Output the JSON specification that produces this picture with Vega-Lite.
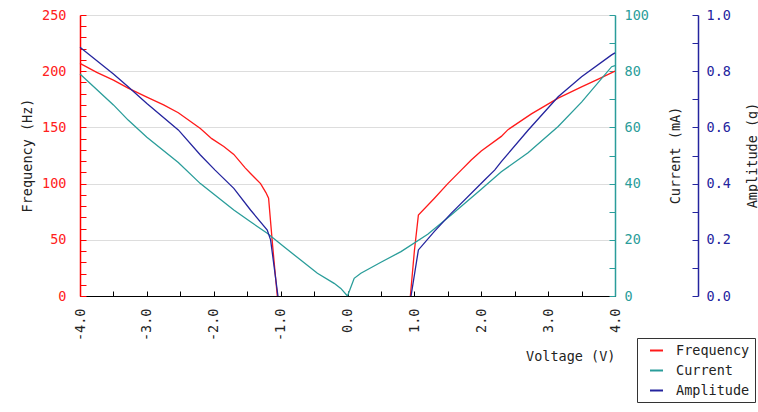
{
  "$schema": "https://vega.github.io/schema/vega-lite/v6.json",
  "width": 535,
  "height": 281,
  "autosize": {"type": "none"},
  "padding": {"left": 80, "top": 15, "right": 143, "bottom": 116},
  "background": "white",
  "config": {
    "view": {"stroke": null},
    "axis": {"labelFont": "DejaVu Sans Mono", "labelFontSize": 13.5, "titleFont": "DejaVu Sans Mono", "titleFontSize": 13.5, "titleFontWeight": "normal", "titleColor": "#222222"}
  },
  "data": {"values": [
    {"series": "Frequency", "side": "L", "v": -4.0, "y": 207},
    {"series": "Frequency", "side": "L", "v": -3.75, "y": 199},
    {"series": "Frequency", "side": "L", "v": -3.5, "y": 192},
    {"series": "Frequency", "side": "L", "v": -3.28, "y": 185},
    {"series": "Frequency", "side": "L", "v": -3.0, "y": 177},
    {"series": "Frequency", "side": "L", "v": -2.75, "y": 170},
    {"series": "Frequency", "side": "L", "v": -2.53, "y": 163},
    {"series": "Frequency", "side": "L", "v": -2.2, "y": 149},
    {"series": "Frequency", "side": "L", "v": -2.03, "y": 140},
    {"series": "Frequency", "side": "L", "v": -1.85, "y": 133},
    {"series": "Frequency", "side": "L", "v": -1.7, "y": 126},
    {"series": "Frequency", "side": "L", "v": -1.53, "y": 114},
    {"series": "Frequency", "side": "L", "v": -1.45, "y": 109},
    {"series": "Frequency", "side": "L", "v": -1.3, "y": 100},
    {"series": "Frequency", "side": "L", "v": -1.22, "y": 92},
    {"series": "Frequency", "side": "L", "v": -1.18, "y": 87},
    {"series": "Frequency", "side": "L", "v": -1.12, "y": 45},
    {"series": "Frequency", "side": "L", "v": -1.05, "y": 0},
    {"series": "Frequency", "side": "R", "v": 0.94, "y": 0},
    {"series": "Frequency", "side": "R", "v": 1.0, "y": 40},
    {"series": "Frequency", "side": "R", "v": 1.06, "y": 72},
    {"series": "Frequency", "side": "R", "v": 1.3, "y": 87},
    {"series": "Frequency", "side": "R", "v": 1.5, "y": 100},
    {"series": "Frequency", "side": "R", "v": 1.7, "y": 112},
    {"series": "Frequency", "side": "R", "v": 1.85, "y": 121},
    {"series": "Frequency", "side": "R", "v": 2.0, "y": 129},
    {"series": "Frequency", "side": "R", "v": 2.3, "y": 142},
    {"series": "Frequency", "side": "R", "v": 2.4, "y": 148},
    {"series": "Frequency", "side": "R", "v": 2.75, "y": 162},
    {"series": "Frequency", "side": "R", "v": 3.15, "y": 176},
    {"series": "Frequency", "side": "R", "v": 3.5, "y": 186},
    {"series": "Frequency", "side": "R", "v": 3.75, "y": 193},
    {"series": "Frequency", "side": "R", "v": 4.0, "y": 200},
    {"series": "Current", "side": "L", "v": -4.0, "y": 79},
    {"series": "Current", "side": "L", "v": -3.5, "y": 68},
    {"series": "Current", "side": "L", "v": -3.28, "y": 62.6},
    {"series": "Current", "side": "L", "v": -3.0, "y": 56.5},
    {"series": "Current", "side": "L", "v": -2.53, "y": 47.5},
    {"series": "Current", "side": "L", "v": -2.2, "y": 40},
    {"series": "Current", "side": "L", "v": -1.7, "y": 30.6},
    {"series": "Current", "side": "L", "v": -1.45, "y": 26.4},
    {"series": "Current", "side": "L", "v": -1.2, "y": 22.3},
    {"series": "Current", "side": "L", "v": -0.95, "y": 17.5},
    {"series": "Current", "side": "L", "v": -0.7, "y": 12.8},
    {"series": "Current", "side": "L", "v": -0.45, "y": 8.1},
    {"series": "Current", "side": "L", "v": -0.2, "y": 4.5},
    {"series": "Current", "side": "L", "v": -0.1, "y": 2.7},
    {"series": "Current", "side": "L", "v": 0.0, "y": 0},
    {"series": "Current", "side": "R", "v": 0.0, "y": 0},
    {"series": "Current", "side": "R", "v": 0.1, "y": 6.3},
    {"series": "Current", "side": "R", "v": 0.2, "y": 8.1},
    {"series": "Current", "side": "R", "v": 0.5, "y": 12},
    {"series": "Current", "side": "R", "v": 0.8, "y": 15.8},
    {"series": "Current", "side": "R", "v": 1.2, "y": 22},
    {"series": "Current", "side": "R", "v": 1.55, "y": 28.8},
    {"series": "Current", "side": "R", "v": 2.0, "y": 38},
    {"series": "Current", "side": "R", "v": 2.3, "y": 44.2},
    {"series": "Current", "side": "R", "v": 2.7, "y": 51},
    {"series": "Current", "side": "R", "v": 3.15, "y": 60.3},
    {"series": "Current", "side": "R", "v": 3.5, "y": 69},
    {"series": "Current", "side": "R", "v": 3.95, "y": 81.6},
    {"series": "Current", "side": "R", "v": 4.0, "y": 82},
    {"series": "Amplitude", "side": "L", "v": -4.0, "y": 0.885},
    {"series": "Amplitude", "side": "L", "v": -3.5, "y": 0.79},
    {"series": "Amplitude", "side": "L", "v": -3.28, "y": 0.745},
    {"series": "Amplitude", "side": "L", "v": -3.0, "y": 0.685},
    {"series": "Amplitude", "side": "L", "v": -2.53, "y": 0.591},
    {"series": "Amplitude", "side": "L", "v": -2.2, "y": 0.502},
    {"series": "Amplitude", "side": "L", "v": -1.98, "y": 0.448},
    {"series": "Amplitude", "side": "L", "v": -1.7, "y": 0.383},
    {"series": "Amplitude", "side": "L", "v": -1.45, "y": 0.306},
    {"series": "Amplitude", "side": "L", "v": -1.2, "y": 0.235},
    {"series": "Amplitude", "side": "L", "v": -1.15, "y": 0.2},
    {"series": "Amplitude", "side": "L", "v": -1.04, "y": 0},
    {"series": "Amplitude", "side": "R", "v": 0.95, "y": 0},
    {"series": "Amplitude", "side": "R", "v": 1.06, "y": 0.164},
    {"series": "Amplitude", "side": "R", "v": 1.3, "y": 0.23},
    {"series": "Amplitude", "side": "R", "v": 1.55, "y": 0.294},
    {"series": "Amplitude", "side": "R", "v": 2.05, "y": 0.413},
    {"series": "Amplitude", "side": "R", "v": 2.2, "y": 0.448},
    {"series": "Amplitude", "side": "R", "v": 2.3, "y": 0.478},
    {"series": "Amplitude", "side": "R", "v": 2.7, "y": 0.59},
    {"series": "Amplitude", "side": "R", "v": 3.15, "y": 0.709},
    {"series": "Amplitude", "side": "R", "v": 3.5, "y": 0.78},
    {"series": "Amplitude", "side": "R", "v": 3.95, "y": 0.858},
    {"series": "Amplitude", "side": "R", "v": 4.0, "y": 0.865}
  ]},
  "encoding": {
    "x": {
      "field": "v", "type": "quantitative",
      "scale": {"domain": [-4, 4], "nice": false, "zero": false},
      "axis": {
        "values": [-4, -3.5, -3, -2.5, -2, -1.5, -1, -0.5, 0, 0.5, 1, 1.5, 2, 2.5, 3, 3.5, 4],
        "labelExpr": "datum.value % 1 === 0 ? replace(format(datum.value, '.1f'), '\u2212', '-') : ''",
        "labelAngle": 270,
        "labelColor": "#222222",
        "labelPadding": 17,
        "domainColor": "#000000",
        "tickColor": "#000000",
        "tickSize": -5,
        "grid": false,
        "title": "Voltage (V)",
        "titleAnchor": "end",
        "titleAlign": "right",
        "titleBaseline": "bottom",
        "titleX": 535,
        "titleY": 67
      }
    },
    "color": {
      "field": "series", "type": "nominal",
      "scale": {"domain": ["Frequency", "Current", "Amplitude"], "range": ["#ff1a1a", "#2a9d9a", "#24249e"]},
      "legend": {
        "orient": "none", "legendX": 557, "legendY": 323, "title": null,
        "symbolType": "stroke", "symbolStrokeWidth": 2, "symbolSize": 169, "symbolOffset": 7,
        "labelFont": "DejaVu Sans Mono", "labelFontSize": 13.5, "labelColor": "#222222",
        "padding": 5, "rowPadding": 6, "labelOffset": 12,
        "strokeColor": "#333333", "fillColor": "white"
      }
    },
    "detail": {"field": "side", "type": "nominal"}
  },
  "layer": [
    {
      "transform": [{"filter": "datum.series === 'Frequency'"}],
      "mark": {"type": "line", "strokeWidth": 1.3},
      "encoding": {
        "y": {
          "field": "y", "type": "quantitative",
          "scale": {"domain": [0, 250], "nice": false},
          "axis": {
            "orient": "left",
            "values": [0, 10, 20, 30, 40, 50, 60, 70, 80, 90, 100, 110, 120, 130, 140, 150, 160, 170, 180, 190, 200, 210, 220, 230, 240, 250],
            "labelExpr": "datum.value % 50 === 0 ? datum.label : ''",
            "labelColor": "#ff2020",
            "domainColor": "#ff0000",
            "domainWidth": 1.5,
            "tickColor": "#ff0000",
            "tickSize": -6,
            "labelPadding": 20,
            "grid": true,
            "gridColor": "#dddddd",
            "gridOpacity": {"condition": {"test": "datum.value % 50 === 0", "value": 1}, "value": 0},
            "title": "Frequency (Hz)",
            "titleAngle": 270,
            "titleAlign": "center",
            "titleBaseline": "middle",
            "titleX": -53,
            "titleY": 140
          }
        }
      }
    },
    {
      "transform": [{"filter": "datum.series === 'Current'"}],
      "mark": {"type": "line", "strokeWidth": 1.3},
      "encoding": {
        "y": {
          "field": "y", "type": "quantitative",
          "scale": {"domain": [0, 100], "nice": false},
          "axis": {
            "orient": "right",
            "values": [0, 10, 20, 30, 40, 50, 60, 70, 80, 90, 100],
            "labelExpr": "datum.value % 20 === 0 ? datum.label : ''",
            "labelColor": "#2a9d9a",
            "domainColor": "#2a9d9a",
            "domainWidth": 1.5,
            "tickColor": "#2a9d9a",
            "tickSize": -6,
            "labelPadding": 15,
            "grid": false,
            "title": "Current (mA)",
            "titleAngle": 270,
            "titleAlign": "center",
            "titleBaseline": "middle",
            "titleX": 60,
            "titleY": 140
          }
        }
      }
    },
    {
      "transform": [{"filter": "datum.series === 'Amplitude'"}],
      "mark": {"type": "line", "strokeWidth": 1.3},
      "encoding": {
        "y": {
          "field": "y", "type": "quantitative",
          "scale": {"domain": [0, 1], "nice": false},
          "axis": {
            "orient": "right",
            "offset": 83,
            "values": [0, 0.1, 0.2, 0.3, 0.4, 0.5, 0.6, 0.7, 0.8, 0.9, 1],
            "labelExpr": "round(datum.value * 10) % 2 === 0 ? format(datum.value, '.1f') : ''",
            "labelColor": "#24249e",
            "domainColor": "#24249e",
            "domainWidth": 1.5,
            "tickColor": "#24249e",
            "tickSize": -6,
            "labelPadding": 14,
            "grid": false,
            "title": "Amplitude (g)",
            "titleAngle": 270,
            "titleAlign": "center",
            "titleBaseline": "middle",
            "titleX": 54,
            "titleY": 140
          }
        }
      }
    }
  ],
  "resolve": {"scale": {"y": "independent"}, "axis": {"y": "independent"}}
}
